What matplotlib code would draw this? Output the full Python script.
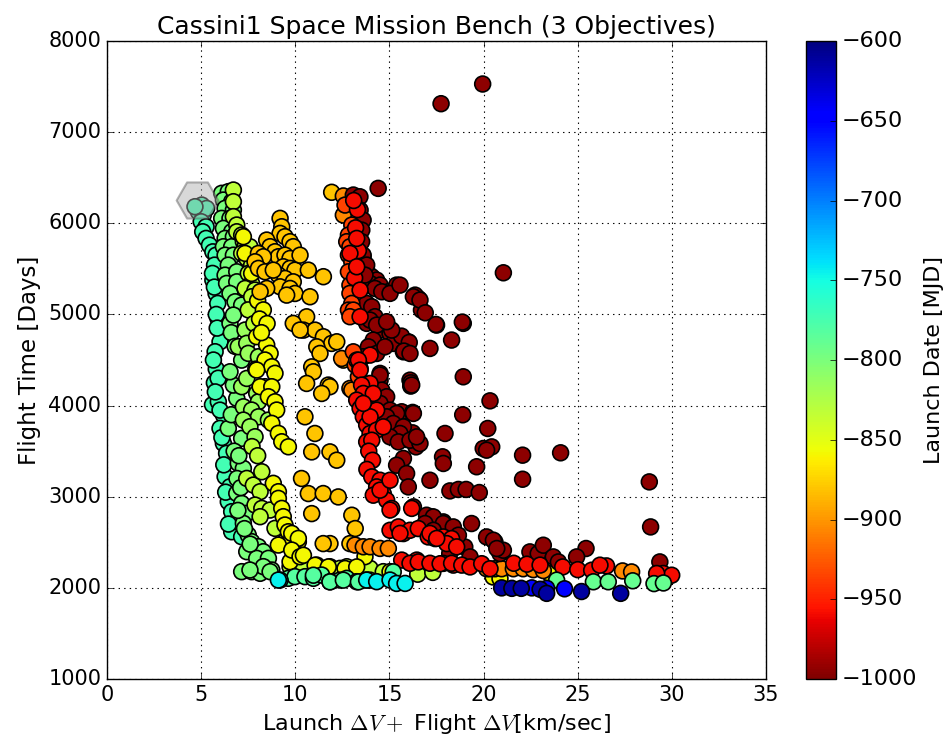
import matplotlib
matplotlib.use("Agg")
import matplotlib.pyplot as plt
import numpy as np

# ---- data ----
# each group: delta-V [km/sec], flight time [days]; one launch date [MJD] per group

CYANGREEN_X = [5.03, 4.85, 5.11, 5.29, 4.67, 5.0, 5.26, 5.08, 5.26, 5.44, 5.62, 5.79, 5.71, 5.62, 5.79,
               5.88, 5.9, 6.1, 6.0, 5.74, 5.8, 5.7, 5.6, 5.91, 6.18, 6.0, 6.18, 6.35, 6.27, 6.53,
               6.44, 6.62, 6.62, 6.89, 7.15,
               5.6, 5.7, 5.8, 5.85, 5.65, 5.9, 5.75, 6.0, 6.1, 6.2, 6.3, 6.45]
CYANGREEN_Y = [6200, 6127, 6090, 6163, 6182, 6017, 5962, 5907, 5834, 5760, 5687, 5650, 5541, 5376, 5230,
               5121, 4950, 4820, 4700, 4591, 4400, 4250, 4010, 4042, 3896, 3750, 3585, 3476, 3220, 3110,
               2945, 2836, 2616, 2726, 2561,
               5450, 5300, 5000, 4850, 4500, 4300, 4150, 3950, 3650, 3350, 3050, 2700]

GREEN_X = [6.09, 6.44, 6.18, 6.62, 6.27, 6.71, 6.09, 6.53, 6.8, 6.18, 6.62, 6.27, 6.71, 6.18, 6.62,
           6.27, 6.71, 6.44, 6.27, 6.89, 6.35, 6.89, 6.53, 6.8, 7.15,
           6.53, 6.71, 7.15, 6.89, 6.71, 7.15, 6.44, 6.53, 6.6, 6.8,
           6.97, 7.24, 6.89, 7.15, 7.42, 7.24, 7.5, 7.68, 8.04, 8.3, 7.42, 7.95, 8.57, 8.75, 7.15,
           7.68, 8.13, 8.3, 7.59, 8.66,
           6.6, 6.75, 6.9, 7.0, 7.1, 6.95, 7.3, 7.6]
GREEN_Y = [6329, 6347, 6255, 6237, 6164, 6146, 6054, 6054, 5999, 5944, 5907, 5834, 5853, 5743, 5743,
           5650, 5650, 5541, 5431, 5468, 5340, 5358, 5230, 5139, 5102,
           4901, 4993, 4499, 4079, 4225, 3640, 3750, 4371, 4800, 4650,
           3366, 3311, 3037, 2927, 2818, 2708, 2580, 2507, 2452, 2397, 2397, 2324, 2324, 2196, 2178,
           2178, 2160, 2233, 2196, 2178,
           3900, 3500, 3200, 3450, 3100, 2850, 2650, 2480]

GREEN2_X = [6.97, 7.33, 7.42, 7.5, 7.15, 7.42, 8.04, 7.95, 8.39, 8.04, 7.24, 7.68, 8.04, 7.24, 7.59,
            7.86, 8.57]
GREEN2_Y = [4646, 4829, 4683, 4573, 4207, 4298, 4536, 4134, 4207, 4042, 3987, 3951, 3877, 3841, 3768,
            3658, 3841]

YELLOWGREEN_X = [6.71, 6.71, 6.71, 6.89, 6.89, 7.15, 7.24, 7.33, 7.59, 7.15, 7.42, 7.68, 7.5, 7.68, 7.33,
                 7.86, 7.68, 7.5, 7.8, 7.9, 7.7, 8.0,
                 7.42, 7.77, 8.13, 8.22, 7.86, 8.22, 8.66, 8.13, 8.92, 9.45,
                 9.72, 10.43, 11.14, 11.84, 12.37, 12.73, 13.26, 13.97, 14.67, 16.5, 17.3]
YELLOWGREEN_Y = [6365, 6237, 6073, 5981, 5907, 5871, 5798, 5743, 5743, 5670, 5615, 5541, 5450, 5340, 5285,
                 5267, 5194, 5050, 4900, 4400, 3550, 3450,
                 3201, 3128, 3055, 3274, 2909, 2872, 2854, 2781, 2653, 2506,
                 2232, 2214, 2250, 2232, 2214, 2232, 2214, 2214, 2178, 2150, 2170]

YELLOW_X = [7.95, 8.48, 8.66, 8.39, 8.75, 7.95, 8.92, 8.13, 8.75, 8.57, 8.92, 9.01, 8.75, 9.1, 9.28, 9.63,
            8.83, 9.1, 9.1, 9.28, 9.36, 9.45, 9.63, 9.81, 10.16, 10.25, 9.72, 9.1,
            7.24, 7.33, 7.68, 8.0, 8.3, 8.1, 8.5, 8.2,
            9.81, 10.16, 9.81, 10.25, 13.7, 15.03,
            10.43, 11.05, 11.75, 12.64, 13.26,
            20.5, 20.87, 23.5]
YELLOW_Y = [4756, 4665, 4573, 4500, 4426, 4390, 4354, 4207, 4207, 4097, 4042, 3951, 3805, 3695, 3603, 3548,
            3147, 3055, 2982, 2872, 2781, 2690, 2616, 2543, 2506, 2360, 2287, 2470,
            5853, 5670, 5450, 5150, 5050, 4950, 4900, 4800,
            2598, 2543, 2415, 2342, 2342, 2178,
            2358, 2249, 2230, 2213, 2230,
            2120, 2102, 2158]

AMBER_X = [9.19, 9.28, 9.19, 9.45, 9.72, 9.89, 8.48, 8.66, 8.92, 9.1, 9.45, 9.72, 9.36, 9.72, 9.98,
           9.1, 9.45, 9.89, 9.19, 9.72, 9.98, 9.54, 8.04, 8.3, 7.86, 8.04, 8.39, 8.83, 8.48, 8.13,
           10.25, 10.69, 11.49, 10.78, 10.6, 10.43, 11.05, 11.49, 11.93, 11.14, 11.31, 10.87, 10.96,
           10.6, 11.75, 12.2, 12.55, 11.84, 11.4, 9.89, 10.25,
           10.51, 11.04, 10.87, 11.84, 12.2, 10.33, 10.69, 11.48, 12.28, 10.87, 13.0, 13.18, 11.84,
           11.48, 12.9, 11.93]
AMBER_Y = [6054, 5962, 5889, 5853, 5798, 5743, 5816, 5743, 5688, 5633, 5651, 5614, 5523, 5505, 5486,
           5432, 5395, 5358, 5303, 5285, 5230, 5212, 5669, 5633, 5578, 5505, 5468, 5486, 5285, 5249,
           5650, 5486, 5414, 5194, 4974, 4828, 4828, 4755, 4682, 4645, 4572, 4425, 4371,
           4243, 4225, 4700, 4499, 4207, 4133, 4902, 4829,
           3877, 3694, 3492, 3492, 3401, 3200, 3035, 3035, 2998, 2815, 2797, 2651, 2486,
           2486, 2486, 6340]

ORANGE_X = [12.55, 12.55, 12.46, 12.9, 13.0, 13.17, 13.61, 13.97, 14.5, 14.94,
            20.16, 20.6, 20.96, 21.58, 22.1, 22.64, 23.17, 27.38, 27.86]
ORANGE_Y = [6300, 6090, 4517, 4188, 4170, 2470, 2451, 2451, 2433, 2433,
            2210, 2210, 2210, 2210, 2210, 2200, 2190, 2186, 2175]

ORANGERED_X = [12.64, 13.0, 12.82, 12.73, 12.9, 12.82, 13.0, 12.82, 12.9, 12.9, 13.0, 12.82,
               13.08, 12.9, 13.18, 13.08, 13.26, 13.44, 13.35]
ORANGERED_Y = [6200, 5981, 5871, 5798, 5743, 5651, 5578, 5468, 5322, 5231, 5121, 5048,
               5048, 4975, 4444, 4590, 4499, 4408, 4316]

RED_X = [13.3, 13.1, 13.2, 13.35, 13.15,
         13.26, 12.9, 13.26, 13.44, 13.44, 13.97, 13.35, 13.44, 13.97,
         13.52, 13.61, 13.26, 13.44, 13.61, 13.79, 13.97, 13.79,
         14.14, 14.32, 13.97, 14.32, 14.06, 14.67, 13.61, 13.9, 14.1, 13.8,
         14.06, 14.5, 14.32, 14.67, 14.14, 14.85, 15.12, 14.5, 15.03,
         15.03, 15.47, 15.74, 16.09, 16.53, 17.06, 17.42, 17.86, 18.3, 18.04, 18.57,
         15.56, 17.15, 17.51, 15.65, 16.45, 17.86, 18.39, 16.18, 15.03,
         16.09, 16.53, 17.15, 17.69, 18.3, 18.84, 19.28, 19.9, 20.34,
         21.6, 22.3, 23.0, 24.2, 25.0, 25.74, 26.53, 26.18, 29.54, 29.99, 29.19]
RED_Y = [6150, 6250, 5950, 5700, 5400,
         5834, 5670, 5523, 5267, 4975, 4554, 4499, 4389, 4243,
         4225, 4133, 4060, 3969, 3877, 3786, 3694, 3602,
         4133, 3950, 3877, 3731, 3620, 3767, 4024, 3500, 3400, 3300,
         3218, 3181, 3108, 3035, 3017, 2962, 2871, 3072, 3181,
         2632, 2669, 2596, 2632, 2651, 2559, 2541, 2559, 2541, 2486, 2450,
         2598, 2598, 2543, 2305, 2305, 2269, 2250, 2872, 2854,
         2270, 2285, 2270, 2265, 2270, 2250, 2230, 2265, 2210,
         2270, 2260, 2250, 2230, 2200, 2194, 2241, 2249, 2158, 2139, 2158]

DARKRED_X = [14.4, 13.08, 13.43, 13.44, 13.6, 13.53, 13.6, 13.79, 14.06, 14.32, 13.97, 14.5, 14.94,
             15.38, 13.79, 14.06, 14.23, 14.85, 13.79, 14.5, 15.03, 15.56, 16.0, 15.2, 14.41, 15.74,
             14.5, 14.5, 16.09, 17.15, 18.3, 18.92, 17.5, 16.7, 16.53, 16.36,
             13.52, 13.6, 13.79, 13.7, 14.23, 14.59, 15.03, 16.27, 16.62,
             19.95, 17.74, 21.05, 15.56, 16.9, 17.47, 18.87, 15.64, 16.05, 15.77, 18.92, 16.13,
             16.13, 20.34, 15.65, 16.23, 18.89, 20.22, 17.95, 16.23, 15.92, 16.41, 15.56, 19.98,
             20.43, 20.16, 22.07, 24.09, 17.82,
             17.86, 19.63, 22.07, 17.15, 18.21, 18.66, 19.07, 19.77, 28.8, 28.87, 19.36, 17.24,
             17.86, 17.9, 18.57, 18.3, 19.0, 19.28, 18.2, 20.16, 20.6, 20.87, 21.05, 22.46, 22.9,
             23.17, 23.7, 23.97, 25.44, 24.94, 29.36,
             15.12, 16.09, 16.18, 14.5, 14.59, 14.85, 14.5, 15.03, 15.38, 14.85, 15.2, 15.74,
             15.56, 15.03, 15.47, 16.27, 16.09, 16.62, 16.44, 13.97, 14.32, 14.85, 14.14, 13.88,
             13.61, 14.32, 14.76,
             15.74, 15.38, 15.91, 16.0, 16.27, 16.97, 17.33, 16.89, 17.86, 18.39, 18.66, 17.33,
             20.52, 20.7]
DARKRED_Y = [6383, 6310, 6291, 6145, 6035, 5925, 5633, 5486, 5414, 5377, 5340, 5322, 5249,
             5322, 5121, 5084, 4975, 4902, 4902, 4828, 4792, 4755, 4700, 4682, 4609, 4590,
             4353, 4279, 4279, 4627, 4719, 4902, 4883, 5048, 5176, 5212,
             5798, 5651, 5542, 5432, 5285, 5249, 5231, 5194, 5158,
             7528, 7312, 5457, 5322, 5018, 4890, 4916, 4762, 4693, 4598, 4316, 4250,
             4214, 4052, 3932, 3925, 3899, 3749, 3694, 3701, 3628, 3547, 3657, 3529,
             3547, 3511, 3456, 3482, 3438,
             3365, 3329, 3192, 3181, 3064, 3080, 3080, 3046, 3163, 2669, 2706, 2779,
             2724, 2632, 2559, 2504, 2449, 2340, 2377, 2559, 2504, 2377, 2413, 2395, 2377,
             2468, 2340, 2285, 2432, 2340, 2285,
             4828, 4572, 4225, 4335, 4170, 4097, 4024, 3950, 3914, 3877, 3804, 3767,
             3694, 3657, 3602, 3914, 3620, 3584, 3657, 4938, 4883, 4920, 4719, 4645,
             4536, 4572, 4645,
             3420, 3346, 3255, 3108, 2889, 2797, 2779, 2706, 2706, 2669, 2578, 2632,
             2523, 2432]

GREENCYAN_X = [9.63, 9.98, 10.51, 10.96, 11.4, 11.84, 12.37, 12.73, 13.26, 13.79,
               10.96, 11.84, 12.55, 13.35, 13.97, 15.2]
GREENCYAN_Y = [2105, 2123, 2123, 2105, 2141, 2068, 2086, 2105, 2068, 2086,
               2139, 2066, 2085, 2066, 2085, 2176]

CYAN_X = [9.19, 9.1, 13.79, 14.32, 15.03, 15.38, 15.83]
CYAN_Y = [2086, 2086, 2086, 2068, 2086, 2049, 2049]

LIGHTGREEN_X = [23.88, 25.83, 26.62, 27.92, 29.05, 29.55]
LIGHTGREEN_Y = [2085, 2067, 2067, 2078, 2047, 2054]

BLUE_X = [22.56, 23.35, 24.3]
BLUE_Y = [2000, 1995, 1990]

NAVY_X = [20.96, 21.5, 22.0, 23.0, 23.35, 25.2, 27.28]
NAVY_Y = [2000, 1995, 1995, 1985, 1940, 1960, 1940]

# (x, y, launch date) in drawing order
GROUPS = [
    (CYANGREEN_X, CYANGREEN_Y, -772),
    (GREEN_X, GREEN_Y, -800),
    (GREEN2_X, GREEN2_Y, -815),
    (YELLOWGREEN_X, YELLOWGREEN_Y, -832),
    (YELLOW_X, YELLOW_Y, -858),
    (AMBER_X, AMBER_Y, -880),
    (ORANGE_X, ORANGE_Y, -905),
    (DARKRED_X, DARKRED_Y, -995),
    (ORANGERED_X, ORANGERED_Y, -935),
    (RED_X, RED_Y, -958),
    (GREENCYAN_X, GREENCYAN_Y, -782),
    (CYAN_X, CYAN_Y, -745),
    (LIGHTGREEN_X, LIGHTGREEN_Y, -790),
    (BLUE_X, BLUE_Y, -645),
    (NAVY_X, NAVY_Y, -612),
]

# reference solution marker
REF_X = [4.76]
REF_Y = [6255]

plt.style.use("classic")
plt.rcParams["figure.facecolor"] = "white"
plt.rcParams["savefig.facecolor"] = "white"

xs = np.concatenate([np.asarray(g[0], float) for g in GROUPS])
ys = np.concatenate([np.asarray(g[1], float) for g in GROUPS])
cs = np.concatenate([np.full(len(g[0]), g[2], float) for g in GROUPS])

fig = plt.figure(figsize=(9.49, 7.48), dpi=100)
ax = fig.add_axes([0.1128, 0.0922, 0.6944, 0.8530])
cax = fig.add_axes([0.849, 0.0922, 0.032, 0.8530])

sc = ax.scatter(xs, ys, c=cs, cmap="jet_r", vmin=-1000, vmax=-600,
                s=130, edgecolors="black", linewidths=1.2, zorder=3)
ax.scatter(REF_X, REF_Y, marker="H", s=900, facecolor="#aaaaaa", edgecolor="#555555",
           alpha=0.45, linewidths=1.5, zorder=4)

ax.set_xlim(0, 35)
ax.set_ylim(1000, 8000)
ax.set_xticks(np.arange(0, 36, 5))
ax.set_yticks(np.arange(1000, 8001, 1000))
ax.grid(True, linestyle=":", color="black", linewidth=0.8)
ax.set_axisbelow(True)
ax.tick_params(labelsize=15)
ax.set_xlabel(r"Launch $\Delta V +$ Flight $\Delta V$[km/sec]", fontsize=16)
ax.set_ylabel("Flight Time [Days]", fontsize=16.5)
ax.set_title("Cassini1 Space Mission Bench (3 Objectives)", fontsize=18)

cb = fig.colorbar(sc, cax=cax, ticks=np.arange(-1000, -599, 50))
cb.ax.tick_params(labelsize=16)
cb.set_label("Launch Date [MJD]", fontsize=16)

fig.savefig("out.png", dpi=100)
